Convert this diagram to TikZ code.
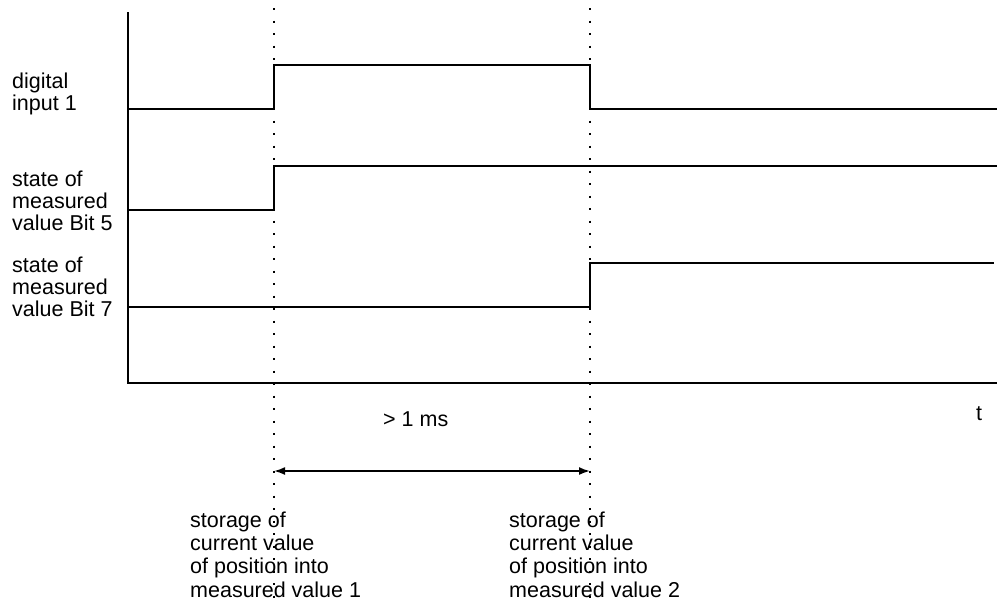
\documentclass[tikz,border=0pt]{standalone}
\usepackage{fontspec}
\setmainfont{Liberation Sans}
\usetikzlibrary{arrows.meta}
\begin{document}
\begin{tikzpicture}[x=1pt,y=-1pt,
  sig/.style={line width=2pt},
  axis/.style={line width=2pt},
  marker/.style={line width=2pt, dash pattern=on 2pt off 10.5pt},
  lbl/.style={anchor=base west, inner sep=0pt, align=left, font=\fontsize{21.5}{22}\selectfont},
  lblb/.style={lbl, font=\fontsize{21.5}{23.3}\selectfont},
  dim/.style={line width=1.8pt, {Latex[length=11pt,width=8pt]}-{Latex[length=11pt,width=8pt]}}]
\useasboundingbox (0,0) rectangle (1000,605);
% axes
\coordinate (o) at (128,383);
\coordinate (ytop) at (128,12);
\coordinate (xend) at (997,383);
\draw[axis] (ytop) -- (o) -- (xend);
% time markers
\coordinate (m1t) at (274,8);
\coordinate (m1b) at (274,600);
\coordinate (m2t) at (590,8);
\coordinate (m2b) at (590,600);
\draw[marker] (m1t) -- (m1b);
\draw[marker] (m2t) -- (m2b);
% signals
\coordinate (a0) at (128,109);
\coordinate (a1) at (997,109);
\draw[sig] (a0) -- (274,109) -- (274,65) -- (590,65) -- (590,109) -- (a1);
\coordinate (b0) at (128,210);
\coordinate (b1) at (997,166);
\draw[sig] (b0) -- (274,210) -- (274,166) -- (b1);
\coordinate (c0) at (128,307);
\coordinate (c1) at (994,263);
\draw[sig] (c0) -- (590,307) -- (590,263) -- (c1);
% dimension arrow
\coordinate (d1) at (274,471);
\coordinate (d2) at (590,471);
\draw[dim] (d1) -- (d2);
% labels (base = baseline of last line)
\node[lbl] (l1) at (12,110) {digital\\input 1};
\node[lbl] (l2) at (12,230) {state of\\measured\\value Bit 5};
\node[lbl] (l3) at (12,316) {state of\\measured\\value Bit 7};
\node[lbl] (ms) at (383,426) {> 1 ms};
\node[lbl] (t) at (976,420) {t};
\node[lblb] (s1) at (190,597) {storage of\\current value\\of position into\\measured value 1};
\node[lblb] (s2) at (509,597) {storage of\\current value\\of position into\\measured value 2};
\end{tikzpicture}
\end{document}
